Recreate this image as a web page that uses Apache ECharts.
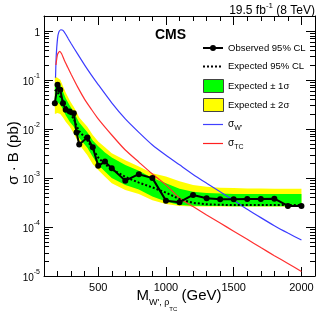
<!DOCTYPE html>
<html><head><meta charset="utf-8">
<script src="https://cdn.jsdelivr.net/npm/echarts@6/dist/echarts.min.js"></script>
<style>html,body{margin:0;padding:0;background:#fff}#c{width:332px;height:319px}</style>
</head><body><div id="c"></div>
<script>
// ---- data ----
const mass = [180,200,220,240,260,290,320,340,360,420,460,500,550,600,700,800,900,1000,1100,1200,1300,1400,1500,1600,1700,1800,1900,2000];
const observed = [0.0334,0.079,0.0625,0.0334,0.0244,0.0225,0.0209,0.0084,0.0048,0.00664,0.00423,0.00176,0.00215,0.00158,0.00088,0.00119,0.00099,0.000344,0.000319,0.00045,0.000385,0.000367,0.000367,0.000373,0.000373,0.000378,0.000268,0.000268];
const expected = [0.063,0.056,0.046,0.037,0.029,0.021,0.016,0.0115,0.009,0.0058,0.0039,0.0026,0.0019,0.0015,0.00105,0.0008,0.00064,0.0005,0.00037,0.00031,0.00029,0.000283,0.00028,0.00028,0.00028,0.00028,0.00028,0.00028];
const minus2 = [0.02,0.021,0.02,0.017,0.014,0.011,0.008,0.0062,0.0048,0.0029,0.0019,0.00145,0.00105,0.00078,0.00057,0.00047,0.00035,0.000295,0.000268,0.000262,0.00026,0.00026,0.00026,0.00026,0.00026,0.00026,0.00026,0.00026];
const minus1 = [0.039,0.035,0.031,0.025,0.019,0.014,0.011,0.0083,0.0065,0.0041,0.0027,0.00184,0.00135,0.001,0.00072,0.00058,0.00042,0.00033,0.00028,0.000272,0.000268,0.000266,0.000265,0.000265,0.000265,0.000265,0.000265,0.000265];
const plus1 = [0.085,0.082,0.079,0.058,0.042,0.03,0.022,0.017,0.0135,0.0085,0.0058,0.0044,0.0033,0.0026,0.00184,0.0014,0.001,0.00078,0.0006,0.00052,0.00049,0.00048,0.00047,0.00047,0.00047,0.00047,0.00047,0.00047];
const plus2 = [0.117,0.11,0.1,0.075,0.055,0.038,0.028,0.022,0.017,0.011,0.0075,0.0055,0.0042,0.0032,0.0023,0.0017,0.00125,0.00107,0.00085,0.00072,0.00066,0.00063,0.00062,0.00061,0.00061,0.0006,0.0006,0.0006];
const wMass = [185,190,200,210,225,240,260,280,300,350,400,450,500,600,700,800,900,1000,1100,1200,1300,1400,1500,1600,1700,1800,1900,2000];
const wXsec = [0.11,0.3,0.7,0.95,1.05,1.02,0.85,0.68,0.55,0.33,0.2,0.125,0.08,0.034,0.016,0.0085,0.0047,0.0029,0.00185,0.00118,0.00078,0.00052,0.00035,0.00023,0.000155,0.000106,0.000075,0.000054];
const tcMass = [188,200,215,230,250,275,300,350,400,450,500,600,700,800,900,1000,1100,1200,1300,1400,1500,1600,1700,1800,1900,2000];
const tcXsec = [0.2,0.33,0.38,0.34,0.25,0.18,0.13,0.07,0.04,0.025,0.016,0.0075,0.0037,0.0021,0.0012,0.00072,0.00039,0.00026,0.000175,0.00012,0.000082,0.000056,0.000038,0.000026,0.000018,0.0000123];
const yMajorTicks = [1e-5,1e-4,1e-3,1e-2,1e-1,1];
const yMinorMant = [2,3,4,5,6,7,8,9];
const yMinorTicks = [];
yMajorTicks.forEach(d => yMinorMant.forEach(k => { const v = +(k*d).toPrecision(3); if (v < 2) yMinorTicks.push(v); }));

const X0 = 100, X1 = 2100, Y0 = 1e-5, Y1 = 2;
const XM0 = 500, XM1 = 2000;           // span of the major-tick axis
const FONT = 'Liberation Sans';
const GL = 44, GR = 17, GT = 16, GB = 43, W = 332;
const GW = W - GL - GR;
// second grid that covers exactly 500..2000 of the main grid, so its 500-step ticks line up
const G2L = GL + GW * (XM0 - X0) / (X1 - X0);
const G2R = W - (GL + GW * (XM1 - X0) / (X1 - X0));

const tickLine = {color:'#000', width:1};
function xMinor(pos) {
  return { type:'value', gridIndex:0, min:X0, max:X1, interval:100, position:pos,
    axisLine:{show:true, lineStyle:{color:'#000', width:1}},
    axisTick:{show:true, inside:true, length:5, lineStyle:tickLine},
    axisLabel:{show:false}, splitLine:{show:false} };
}
function xMajor(pos, labels) {
  return { type:'value', gridIndex:1, min:XM0, max:XM1, interval:500, position:pos,
    axisLine:{show:false},
    axisTick:{show:true, inside:true, length:9, lineStyle:tickLine},
    axisLabel: labels ? {show:true, fontSize:11, color:'#000', margin:6, fontFamily:FONT, formatter: v => String(v)} : {show:false},
    splitLine:{show:false} };
}
function yLog(pos, labels) {
  return { type:'log', logBase:10, gridIndex:0, min:Y0, max:Y1, position:pos,
    axisLine:{show:true, lineStyle:{color:'#000', width:1}},
    axisTick:{show:true, inside:true, length:9, lineStyle:tickLine},
    axisLabel: labels ? {show:true, customValues:yMajorTicks, color:'#000', margin:4, fontFamily:FONT,
      formatter: v => { if (Math.abs(v-1) < 1e-9) return '{b|1}'; const e = Math.round(Math.log10(v)); return '{b|10}{s|' + e + '}'; },
      rich:{ b:{fontSize:10, fontFamily:FONT, color:'#000', verticalAlign:'bottom', lineHeight:14},
             s:{fontSize:7, fontFamily:FONT, color:'#000', verticalAlign:'top', lineHeight:14} } } : {show:false},
    splitLine:{show:false} };
}

function band(name, lo, hi, color, z) {
  return { type:'custom', name, z, silent:true, clip:true, xAxisIndex:0, yAxisIndex:0,
    data: mass.map((m,i) => [m, lo[i], hi[i]]),
    encode:{x:0, y:[1,2]},
    renderItem(params, api) {
      if (params.dataIndex !== 0) return null;
      const top = mass.map((m,i) => api.coord([m, hi[i]]));
      const bot = mass.map((m,i) => api.coord([m, lo[i]])).reverse();
      return { type:'polygon', shape:{points: top.concat(bot)}, style:{fill:color} };
    } };
}

function seg(x1,y1,x2,y2,c,w){ return {type:'line', shape:{x1:x1,y1:y1,x2:x2,y2:y2}, style:{stroke:c, lineWidth:w}}; }

// legend drawn as graphic
const LX = 203, LT = 228;
const rows = [48, 66.5, 86, 105, 124, 143];
const txt = (y, text, rich) => ({type:'text', x:LT, y:y, style:{text:text, fill:'#000', font:'9.5px "' + FONT + '"', verticalAlign:'middle', rich:rich}});
const subRich = { t:{fontSize:10, fontFamily:FONT, fill:'#000', verticalAlign:'bottom', lineHeight:14}, s:{fontSize:7, fontFamily:FONT, fill:'#000', verticalAlign:'bottom', lineHeight:14, padding:[0,0,-3,0]} };
const legendG = [
  seg(LX, rows[0], LX+20, rows[0], '#000', 2),
  {type:'circle', shape:{cx:LX+10, cy:rows[0], r:3}, style:{fill:'#000'}},
  txt(rows[0], 'Observed 95% CL'),
  {type:'line', shape:{x1:LX, y1:rows[1], x2:LX+20, y2:rows[1]}, style:{stroke:'#000', lineWidth:2, lineDash:[2,2]}},
  txt(rows[1], 'Expected 95% CL'),
  {type:'rect', shape:{x:LX+0.5, y:rows[2]-6.5, width:20, height:13}, style:{fill:'#00ff00', stroke:'#444', lineWidth:1}},
  txt(rows[2], 'Expected ± 1σ'),
  {type:'rect', shape:{x:LX+0.5, y:rows[3]-6.5, width:20, height:13}, style:{fill:'#ffff00', stroke:'#444', lineWidth:1}},
  txt(rows[3], 'Expected ± 2σ'),
  seg(LX, rows[4]+0.5, LX+20, rows[4]+0.5, '#4040ff', 1.2),
  txt(rows[4]-2, '{t|σ}{s|W\'}', subRich),
  seg(LX, rows[5]+0.5, LX+20, rows[5]+0.5, '#ff2020', 1.2),
  txt(rows[5]-2, '{t|σ}{s|TC}', subRich)
];

const option = {
  animation:false,
  backgroundColor:'#fff',
  grid:[ {left:GL, right:GR, top:GT, bottom:GB, outerBoundsMode:'none'},
         {left:G2L, right:G2R, top:GT, bottom:GB, outerBoundsMode:'none'} ],
  xAxis:[ xMinor('bottom'), xMinor('top'), xMajor('bottom', true), xMajor('top', false) ],
  yAxis:[ yLog('left', true), yLog('right', false),
          {type:'value', gridIndex:1, min:0, max:1, show:false} ],
  graphic:[
    {type:'text', left:155, top:28, style:{text:'CMS', font:'bold 14px "' + FONT + '"', fill:'#000'}},
    {type:'text', right:17, top:2, style:{text:'{a|19.5 fb}{s|-1}{a| (8 TeV)}', rich:{a:{fontSize:12, fontFamily:FONT, fill:'#000', verticalAlign:'bottom', lineHeight:15}, s:{fontSize:8, fontFamily:FONT, fill:'#000', verticalAlign:'top', lineHeight:15}}}},
    {type:'text', x:6, y:153, rotation:Math.PI/2, style:{text:'σ · B (pb)', font:'15px "' + FONT + '"', fill:'#000', align:'center', verticalAlign:'top'}},
    {type:'text', x:179, y:288, style:{text:'{m|M}{s|W\', ρ}{t|TC}{m| (GeV)}', align:'center',
      rich:{ m:{fontSize:15, fontFamily:FONT, fill:'#000', verticalAlign:'top', lineHeight:26},
             s:{fontSize:9, fontFamily:FONT, fill:'#000', verticalAlign:'top', padding:[10,0,0,0], lineHeight:26},
             t:{fontSize:6, fontFamily:FONT, fill:'#000', verticalAlign:'top', padding:[18,0,0,0], lineHeight:26} } }}
  ].concat(legendG),
  series:[
    band('Expected ± 2σ', minus2, plus2, '#ffff00', 1),
    band('Expected ± 1σ', minus1, plus1, '#00ff00', 2),
    { type:'line', name:'sigW', z:3, xAxisIndex:0, yAxisIndex:0, data: wMass.map((m,i)=>[m, wXsec[i]]), symbol:'none', smooth:0.2,
      lineStyle:{color:'#3c3cff', width:1.2}, itemStyle:{color:'#3c3cff'} },
    { type:'line', name:'sigTC', z:3, xAxisIndex:0, yAxisIndex:0, data: tcMass.map((m,i)=>[m, tcXsec[i]]), symbol:'none', smooth:0.2,
      lineStyle:{color:'#ff3030', width:1.2}, itemStyle:{color:'#ff3030'} },
    { type:'line', name:'Expected 95% CL', z:4, xAxisIndex:0, yAxisIndex:0, data: mass.map((m,i)=>[m, expected[i]]), symbol:'none',
      lineStyle:{color:'#000', width:2, type:[2,2]}, itemStyle:{color:'#000'} },
    { type:'line', name:'Observed 95% CL', z:5, xAxisIndex:0, yAxisIndex:0, data: mass.map((m,i)=>[m, observed[i]]), symbol:'circle', symbolSize:6,
      lineStyle:{color:'#000', width:2}, itemStyle:{color:'#000'} }
  ]
};

const chart = echarts.init(document.getElementById('c'), null, {renderer:'canvas'});
chart.setOption(option);

// minor log ticks on left/right edges, placed with the chart's own y scale
try {
  const px = p => chart.convertToPixel({xAxisIndex:0, yAxisIndex:0}, p);
  const g = [];
  const c0 = px([X0, Y0]), c1 = px([X1, Y1]);
  const lX = c0[0], rX = c1[0];
  yMinorTicks.forEach(v => { const y = Math.round(px([X0, v])[1]) + 0.5; g.push(seg(lX, y, lX+5, y, '#000', 1), seg(rX, y, rX-5, y, '#000', 1)); });
  option.graphic = option.graphic.concat(g);
  chart.setOption(option, true);
} catch (e) {}
</script></body></html>
